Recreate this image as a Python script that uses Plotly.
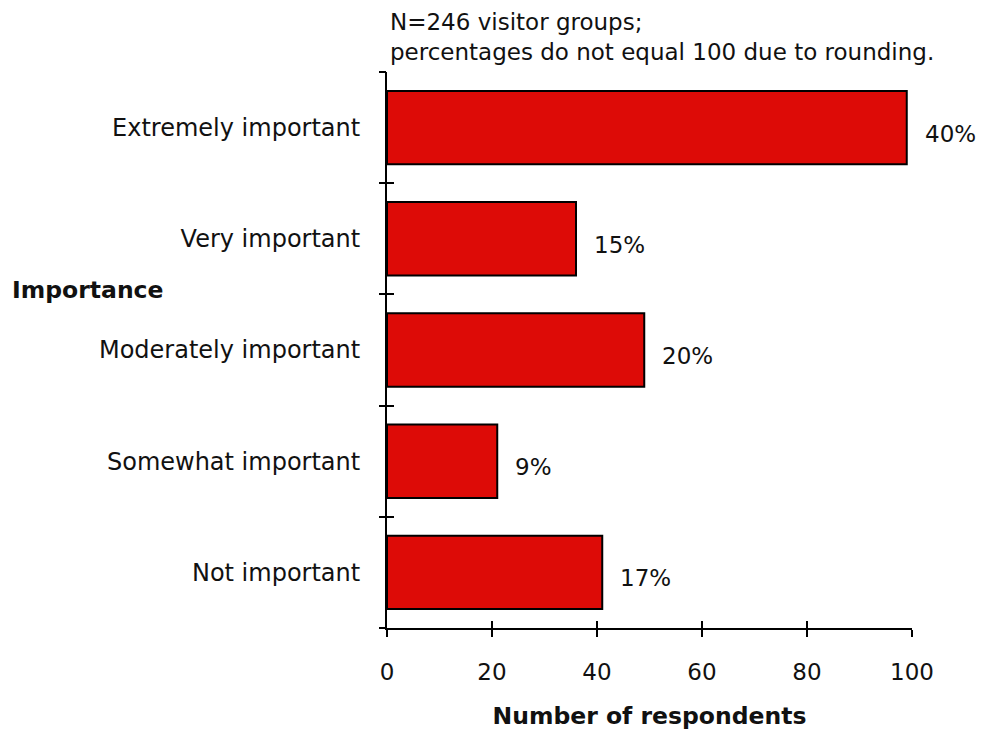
import plotly.graph_objects as go

# Survey responses: importance rating vs. number of visitor groups
categories = ["Extremely important", "Very important", "Moderately important",
              "Somewhat important", "Not important"]
respondents = [99, 36, 49, 21, 41]
percent_labels = ["40%", "15%", "20%", "9%", "17%"]
x_ticks = [0, 20, 40, 60, 80, 100]

FONT = "DejaVu Sans"
BLACK = "#000000"
TEXT = "#111111"
BAR_RED = "#DD0B07"

n = len(categories)
y_range = [n - 0.5, -0.5]
boundaries = [i - 0.5 for i in range(n + 1)]

fig = go.Figure()

fig.add_trace(go.Bar(
    x=respondents,
    y=list(range(n)),
    orientation="h",
    width=0.66,
    marker=dict(color=BAR_RED, line=dict(color=BLACK, width=2)),
    hoverinfo="skip",
    showlegend=False,
))

# invisible traces so the overlay axes (inside/outside tick halves) get drawn
for xa, ya in [("x", "y2"), ("x", "y3"), ("x2", "y")]:
    fig.add_trace(go.Scatter(x=[None], y=[None], xaxis=xa, yaxis=ya,
                             showlegend=False, hoverinfo="skip"))

tick_font = dict(family=FONT, size=23, color=TEXT)
cat_font = dict(family=FONT, size=24, color=TEXT)

fig.update_layout(
    width=989, height=730,
    margin=dict(l=387, r=77, t=72, b=102, autoexpand=False),
    paper_bgcolor="white", plot_bgcolor="white",
    font=tick_font,
    xaxis=dict(
        range=[0, 100], tickvals=x_ticks, ticktext=[str(v) for v in x_ticks],
        showgrid=False, zeroline=False, automargin=False,
        showline=True, linecolor=BLACK, linewidth=2,
        ticks="outside", ticklen=7, tickwidth=2, tickcolor=BLACK,
        ticklabelstandoff=15, tickfont=tick_font,
        title=dict(text="<b>Number of respondents</b>", standoff=26,
                   font=dict(family=FONT, size=23.5, color=TEXT)),
        fixedrange=True,
    ),
    xaxis2=dict(
        overlaying="x", anchor="y", side="bottom",
        range=[0, 100], tickvals=x_ticks, showticklabels=False,
        showgrid=False, zeroline=False, showline=False, automargin=False,
        ticks="inside", ticklen=7, tickwidth=2, tickcolor=BLACK,
        fixedrange=True,
    ),
    yaxis=dict(
        range=y_range, tickvals=list(range(n)), ticktext=categories,
        showgrid=False, zeroline=False, automargin=False,
        showline=True, linecolor=BLACK, linewidth=2,
        ticks="", ticklabelstandoff=20, tickfont=cat_font,
        fixedrange=True,
    ),
    yaxis2=dict(
        overlaying="y", anchor="x", side="left",
        range=y_range, tickvals=boundaries, showticklabels=False,
        showgrid=False, zeroline=False, showline=False, automargin=False,
        ticks="outside", ticklen=7, tickwidth=2, tickcolor=BLACK,
        fixedrange=True,
    ),
    yaxis3=dict(
        overlaying="y", anchor="x", side="left",
        range=y_range, tickvals=boundaries, showticklabels=False,
        showgrid=False, zeroline=False, showline=False, automargin=False,
        ticks="inside", ticklen=7, tickwidth=2, tickcolor=BLACK,
        fixedrange=True,
    ),
)

# percentage labels to the right of each bar
for i, (val, lab) in enumerate(zip(respondents, percent_labels)):
    fig.add_annotation(
        x=val, y=i, xref="x", yref="y",
        text=lab, showarrow=False,
        xanchor="left", yanchor="middle", xshift=16, yshift=-6,
        font=tick_font,
    )

# note above the plot
fig.add_annotation(
    x=0, y=1, xref="paper", yref="paper",
    text="N=246 visitor groups;<br>percentages do not equal 100 due to rounding.",
    showarrow=False, xanchor="left", yanchor="bottom", align="left",
    xshift=1, yshift=5,
    font=dict(family=FONT, size=23, color=TEXT),
)

# horizontal y-axis title
fig.add_annotation(
    x=0, y=(628 - 290) / 556, xref="paper", yref="paper",
    text="<b>Importance</b>", showarrow=False,
    xanchor="left", yanchor="middle", xshift=-377,
    font=dict(family=FONT, size=23.5, color=TEXT),
)

fig.write_html("out.html")
